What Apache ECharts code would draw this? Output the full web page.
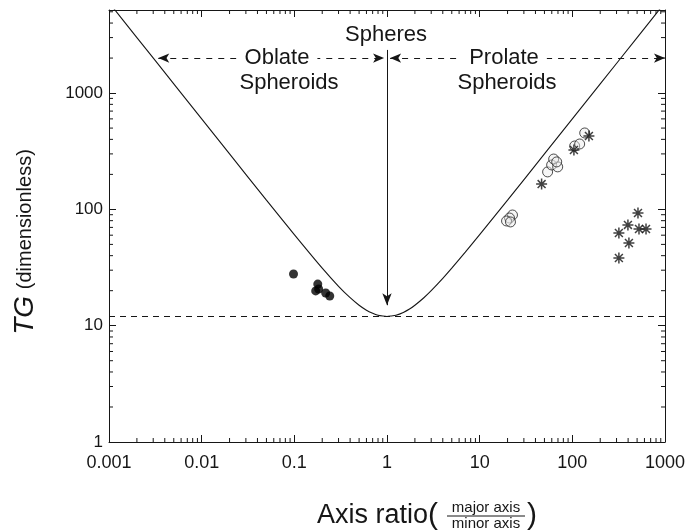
<!DOCTYPE html>
<html><head><meta charset="utf-8">
<script src="https://cdn.jsdelivr.net/npm/echarts@6/dist/echarts.min.js"></script>
<style>html,body{margin:0;padding:0;background:#fff}#c{width:691px;height:532px}</style>
</head><body><div id="c"></div>
<script>
// ---- data ----
const curveRatio = [0.001,0.002,0.005,0.01,0.02,0.05,0.1,0.2,0.3,0.4,0.5,0.6,0.7,0.8,0.9,1,1.1,1.25,1.5,1.75,2,2.5,3,4,5,7,10,20,50,100,200,500,1000];
const curveTG    = [6006,3003,1201,600,300,120,60.6,31.2,21.8,17.4,15,13.6,12.8,12.3,12.1,12,12.1,12.3,13,13.9,15,17.4,20,25.5,31.2,42.9,60.6,120,300,600,1200,3000,6006];
const sphereTG = 12;
const oblateRatio = [0.098,0.179,0.183,0.170,0.218,0.241];
const oblateTG    = [27.8,22.8,20.7,19.9,19.1,18.0];
const prolateRatio = [22.6,21.0,19.5,21.5,54.1,59.8,69.5,62.9,67.8,106,120,136];
const prolateTG    = [89.5,84.3,79.5,78.0,210,241,232,271,256,351,365,454];
const starRatio = [46.6,104,151,511,398,318,524,624,408,318];
const starTG    = [165,324,428,93,73.5,62.7,67.8,67.8,51.4,38.2];
const xTickLabels = ['0.001','0.01','0.1','1','10','100','1000'];
const yTickLabels = ['1','10','100','1000'];
const xMin = 0.001, xMax = 1000, yMin = 1, yMax = 5180;
// annotation anchors (data space)
const arrowTG = 2000;
const oblateArrow = [0.0034, 0.93];
const prolateArrow = [1.08, 1000];
const sphereArrow = [2350, 15];

const FONT = "'Liberation Sans', Arial, Helvetica, sans-serif";
const INK = '#161616';

function pairs(xs, ys){ return xs.map((x,i)=>[x, ys[i]]); }
function fmt(v){
  const lg = Math.round(Math.log10(v));
  if (Math.abs(Math.log10(v)-lg) > 1e-6) return '';
  const all = xTickLabels.concat(yTickLabels);
  return all.find(t => Math.abs(Math.log10(parseFloat(t)) - lg) < 1e-6) || '';
}
const minorX = [], minorY = [];
for (let k=-3;k<=2;k++) for (let m=2;m<=9;m++) minorX.push([m*Math.pow(10,k), 1]);
for (let k=0;k<=3;k++) for (let m=2;m<=9;m++){ const v=m*Math.pow(10,k); if (v<yMax) minorY.push([xMin, v]); }

function tickX(params, api){
  const p = api.coord([api.value(0), api.value(1)]);
  const cs = params.coordSys; const b = cs.y+cs.height;
  return {type:'group', children:[
    {type:'line', shape:{x1:p[0],y1:b,x2:p[0],y2:b-4}, style:{stroke:INK,lineWidth:1}},
    {type:'line', shape:{x1:p[0],y1:cs.y,x2:p[0],y2:cs.y+4}, style:{stroke:INK,lineWidth:1}}
  ]};
}
function tickY(params, api){
  const p = api.coord([api.value(0), api.value(1)]);
  const cs = params.coordSys; const r = cs.x+cs.width;
  return {type:'group', children:[
    {type:'line', shape:{x1:cs.x,y1:p[1],x2:cs.x+4,y2:p[1]}, style:{stroke:INK,lineWidth:1}},
    {type:'line', shape:{x1:r,y1:p[1],x2:r-4,y2:p[1]}, style:{stroke:INK,lineWidth:1}}
  ]};
}

const axisCommon = {
  type:'log', logBase:10,
  axisLine:{show:true, onZero:false, lineStyle:{color:INK, width:1}},
  axisTick:{show:true, inside:true, length:7, lineStyle:{color:INK}},
  splitLine:{show:false}, minorTick:{show:false}, minorSplitLine:{show:false}
};
const chart = echarts.init(document.getElementById('c'), null, {renderer:'canvas'});
const starPath = 'path://M0,-5L0,5M-5,0L5,0M-3.6,-3.6L3.6,3.6M-3.6,3.6L3.6,-3.6';
chart.setOption({
  animation:false,
  backgroundColor:'#fff',
  textStyle:{fontFamily:FONT, color:INK},
  grid:{left:109, right:26, top:10, bottom:90, containLabel:false},
  xAxis:[
    Object.assign({}, axisCommon, {position:'bottom', min:xMin, max:xMax,
      axisLabel:{show:true, fontSize:18, color:INK, margin:12, fontFamily:FONT, formatter:fmt, showMaxLabel:true}}),
    Object.assign({}, axisCommon, {position:'top', min:xMin, max:xMax, axisLabel:{show:false}})
  ],
  yAxis:[
    Object.assign({}, axisCommon, {position:'left', min:yMin, max:yMax,
      axisLabel:{show:true, fontSize:17, color:INK, margin:6, fontFamily:FONT, formatter:fmt, showMaxLabel:false}}),
    Object.assign({}, axisCommon, {position:'right', min:yMin, max:yMax, axisLabel:{show:false}})
  ],
  series:[
    {type:'custom', renderItem:tickX, data:minorX, silent:true, clip:false, xAxisIndex:0, yAxisIndex:0, z:1},
    {type:'custom', renderItem:tickY, data:minorY, silent:true, clip:false, xAxisIndex:0, yAxisIndex:0, z:1},
    {type:'line', data:pairs(curveRatio, curveTG), showSymbol:false, smooth:0.2, clip:true, silent:true,
      lineStyle:{color:INK, width:1.1},
      markLine:{silent:true, symbol:['none','none'], label:{show:false}, emphasis:{disabled:true},
        data:[
          {yAxis:sphereTG, lineStyle:{type:[6,5], color:INK, width:1}},
          [{coord:[oblateArrow[0], arrowTG], symbol:'arrow', symbolSize:[7,11], lineStyle:{type:[6,6], color:INK, width:1}},
           {coord:[oblateArrow[1], arrowTG], symbol:'arrow', symbolSize:[7,11]}],
          [{coord:[prolateArrow[0], arrowTG], symbol:'arrow', symbolSize:[7,11], lineStyle:{type:[6,6], color:INK, width:1}},
           {coord:[prolateArrow[1], arrowTG], symbol:'arrow', symbolSize:[7,11]}],
          [{coord:[1, sphereArrow[0]], symbol:'none', lineStyle:{type:'solid', color:INK, width:1}},
           {coord:[1, sphereArrow[1]], symbol:'arrow', symbolSize:[7,12]}]
        ]}
    },
    {type:'scatter', data:pairs(oblateRatio, oblateTG), symbol:'circle', symbolSize:9, silent:true,
      itemStyle:{color:'#000'}},
    {type:'scatter', data:pairs(prolateRatio, prolateTG), symbol:'circle', symbolSize:10, silent:true,
      itemStyle:{color:'rgba(235,235,235,0.55)', borderColor:'#222', borderWidth:1}},
    {type:'scatter', data:pairs(starRatio, starTG), symbol:starPath, symbolSize:11, silent:true,
      itemStyle:{color:'none', borderColor:'#111', borderWidth:1.5}}
  ],
  graphic:[
    {type:'text', x:386, y:35, z:100, style:{text:'Spheres', font:'22px '+FONT, fill:INK, align:'center', verticalAlign:'middle'}},
    {type:'text', x:277, y:58, z:100, style:{text:'Oblate', font:'22px '+FONT, fill:INK, align:'center', verticalAlign:'middle', backgroundColor:'#fff', padding:[0,8]}},
    {type:'text', x:289, y:83, z:100, style:{text:'Spheroids', font:'22px '+FONT, fill:INK, align:'center', verticalAlign:'middle'}},
    {type:'text', x:504, y:58, z:100, style:{text:'Prolate', font:'22px '+FONT, fill:INK, align:'center', verticalAlign:'middle', backgroundColor:'#fff', padding:[0,8]}},
    {type:'text', x:507, y:83, z:100, style:{text:'Spheroids', font:'22px '+FONT, fill:INK, align:'center', verticalAlign:'middle'}},
    {type:'text', x:25, y:242, rotation:Math.PI/2, z:100, style:{text:'{a|TG}  {b|(dimensionless)}', align:'center', verticalAlign:'middle', fill:INK,
      rich:{a:{fontSize:28, fontStyle:'italic', fontFamily:FONT, fill:INK}, b:{fontSize:20, fontFamily:FONT, fill:INK}}}},
    {type:'text', x:317, y:516, z:100, style:{text:'Axis ratio', font:'27px '+FONT, fill:INK, align:'left', verticalAlign:'middle'}},
    {type:'text', x:438, y:516, z:100, style:{text:'(', font:'30px '+FONT, fill:INK, align:'right', verticalAlign:'middle'}},
    {type:'text', x:486, y:508, z:100, style:{text:'major axis', font:'15px '+FONT, fill:INK, align:'center', verticalAlign:'middle'}},
    {type:'line', z:100, shape:{x1:447, y1:516, x2:525, y2:516}, style:{stroke:INK, lineWidth:1}},
    {type:'text', x:486, y:524, z:100, style:{text:'minor axis', font:'15px '+FONT, fill:INK, align:'center', verticalAlign:'middle'}},
    {type:'text', x:527, y:516, z:100, style:{text:')', font:'30px '+FONT, fill:INK, align:'left', verticalAlign:'middle'}}
  ]
});
</script></body></html>
